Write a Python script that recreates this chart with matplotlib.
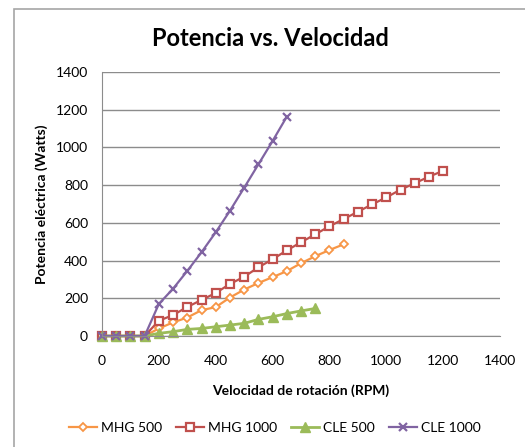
import matplotlib
matplotlib.use('Agg')
import matplotlib.pyplot as plt
from matplotlib.patches import Rectangle

plt.rcParams['font.family'] = ['Lato', 'DejaVu Sans']

# datos
rpm = [0, 50, 100, 150, 200, 250, 300, 350, 400, 450, 500, 550, 600, 650,
       700, 750, 800, 850, 900, 950, 1000, 1050, 1100, 1150, 1200]

mhg500 = [0, 0, 0, 0, 40, 72, 98, 137, 153, 204, 246, 281, 312, 344, 386, 423, 456, 486]
mhg1000 = [0, 0, 0, 0, 81, 111, 154, 191, 228, 276, 314, 364, 407, 454, 497, 539, 582,
           620, 659, 698, 735, 776, 810, 845, 876]
cle500 = [0, 0, 0, 0, 14, 23, 35, 40, 49, 58, 67, 88, 102, 119, 133, 146]
cle1000 = [0, 0, 0, 0, 170, 251, 345, 444, 550, 664, 786, 910, 1034, 1163]

names = ['MHG 500', 'MHG 1000', 'CLE 500', 'CLE 1000']
colors = ['#F79646', '#C0504D', '#9BBB59', '#8064A2']

fig = plt.figure(figsize=(5.25, 4.47), dpi=100)
ax = fig.add_axes([102/525, 1-336/447, 398/525, 264/447])

# borde del grafico
fig.patches.append(Rectangle((14/525, -0.1), 1.2, 1-9/447+0.1, transform=fig.transFigure,
                             fill=False, edgecolor='#a6a6a6', lw=1.2))

ax.plot(rpm[:len(mhg500)], mhg500, color=colors[0], lw=1.6, marker='D', ms=4,
        mfc='white', mec=colors[0], mew=1.3, label=names[0], clip_on=False)
ax.plot(rpm[:len(mhg1000)], mhg1000, color=colors[1], lw=1.6, marker='s', ms=5.5,
        mfc='white', mec=colors[1], mew=1.6, label=names[1], clip_on=False)
ax.plot(rpm[:len(cle500)], cle500, color=colors[2], lw=2, marker='^', ms=7,
        mfc=colors[2], mec=colors[2], label=names[2], clip_on=False)
ax.plot(rpm[:len(cle1000)], cle1000, color=colors[3], lw=1.6, marker='x', ms=6,
        mew=1.6, label=names[3], clip_on=False)

ax.set_xlim(0, 1400)
ax.set_ylim(0, 1400)
ax.set_xticks(range(0, 1401, 200))
ax.set_yticks(range(0, 1401, 200))
ax.grid(axis='y', color='#8c8c8c', lw=1)
ax.set_axisbelow(True)
for s in ['top', 'right']:
    ax.spines[s].set_visible(False)
for s in ['left', 'bottom']:
    ax.spines[s].set_color('#8c8c8c')
ax.tick_params(length=0, labelsize=10, pad=10)
ax.tick_params(axis='x', pad=14)

ax.set_xlabel('Velocidad de rotación (RPM)', fontsize=10, fontweight='bold', labelpad=12)
ax.set_ylabel('Potencia eléctrica (Watts)', fontsize=10, fontweight='bold', labelpad=6)
fig.text(270/525, 1-38/447, 'Potencia vs. Velocidad', fontsize=17, fontweight='bold',
         ha='center', va='center')

ax.legend(loc='center', bbox_to_anchor=(275/525, 1-428/447), bbox_transform=fig.transFigure,
          ncol=4, frameon=False, fontsize=10, handlelength=2.0, columnspacing=1.0,
          handletextpad=0.3)

fig.savefig('out.png', dpi=100)
